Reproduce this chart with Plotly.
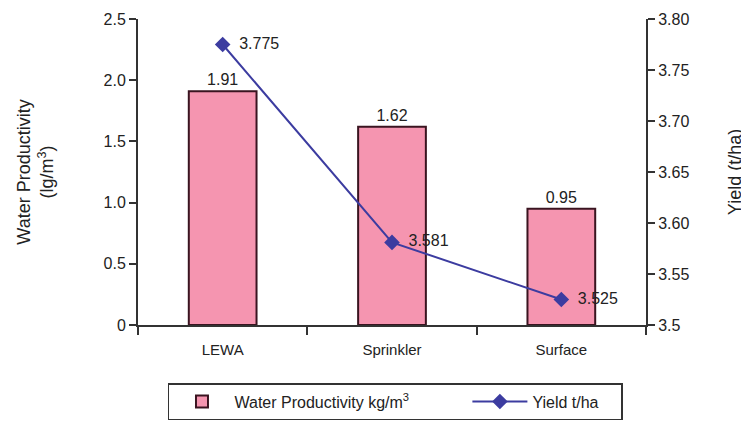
import plotly.graph_objects as go

categories = ["LEWA", "Sprinkler", "Surface"]
water_productivity = [1.91, 1.62, 0.95]
yield_tha = [3.775, 3.581, 3.525]
wp_labels = ["1.91", "1.62", "0.95"]
yield_labels = ["3.775", "3.581", "3.525"]
left_ticks = [0, 0.5, 1.0, 1.5, 2.0, 2.5]
left_ticktext = ["0", "0.5", "1.0", "1.5", "2.0", "2.5"]
right_ticks = [3.5, 3.55, 3.6, 3.65, 3.7, 3.75, 3.8]
right_ticktext = ["3.5", "3.55", "3.60", "3.65", "3.70", "3.75", "3.80"]

FONT = "Liberation Sans, Arial, sans-serif"
TXT = "#222222"
AX = "#333333"
PAD = "\u00a0" * 12

fig = go.Figure()
fig.add_trace(go.Bar(
    x=categories, y=water_productivity, name="Water Productivity kg/m<sup>3</sup>" + PAD,
    marker=dict(color="#f595b0", line=dict(color="#3a1420", width=2)),
    text=wp_labels, textposition="outside", cliponaxis=False,
    textfont=dict(size=16, color=TXT, family=FONT),
))
fig.add_trace(go.Scatter(
    x=categories, y=yield_tha, yaxis="y2", name="Yield t/ha" + "\u00a0" * 4,
    mode="lines+markers+text",
    line=dict(color="#3c3ca0", width=2),
    marker=dict(symbol="diamond", size=12, color="#3c3ca0"),
    text=["\u2002" + t for t in yield_labels], textposition="middle right", cliponaxis=False,
    textfont=dict(size=16, color=TXT, family=FONT),
))

fig.update_layout(
    width=749, height=426,
    margin=dict(l=130, r=111, t=11, b=109, autoexpand=False),
    plot_bgcolor="white", paper_bgcolor="white",
    font=dict(family=FONT, size=15, color=TXT),
    bargap=0.6,
    showlegend=True,
    legend=dict(
        orientation="h", x=0.059, y=-0.19, xanchor="left", yanchor="top",
        bordercolor="#333333", borderwidth=1.5, font=dict(size=16, color=TXT),
        itemwidth=55, tracegroupgap=0,
    ),
    xaxis=dict(
        showline=True, linecolor=AX, linewidth=2, ticks="outside", tickson="boundaries",
        ticklen=8, tickwidth=2, tickcolor=AX, tickfont=dict(size=15),
        showgrid=False, ticklabelstandoff=10, automargin=False,
    ),
    yaxis=dict(
        range=[0, 2.5], tickvals=left_ticks, ticktext=left_ticktext,
        showline=True, linecolor=AX, linewidth=2, ticks="outside", ticklen=7,
        tickwidth=2, tickcolor=AX, showgrid=False, zeroline=False,
        tickfont=dict(size=16), automargin=False,
        title=dict(text="Water Productivity<br>(lg/m<sup>3</sup>)", font=dict(size=18), standoff=45),
    ),
    yaxis2=dict(
        range=[3.5, 3.8], tickvals=right_ticks, ticktext=right_ticktext,
        overlaying="y", side="right",
        showline=True, linecolor=AX, linewidth=2, ticks="outside", ticklen=7,
        tickwidth=2, tickcolor=AX, showgrid=False, zeroline=False,
        tickfont=dict(size=16), automargin=False,
        title=dict(text="Yield (t/ha)", font=dict(size=18), standoff=40),
    ),
)

fig.write_html("out.html")
